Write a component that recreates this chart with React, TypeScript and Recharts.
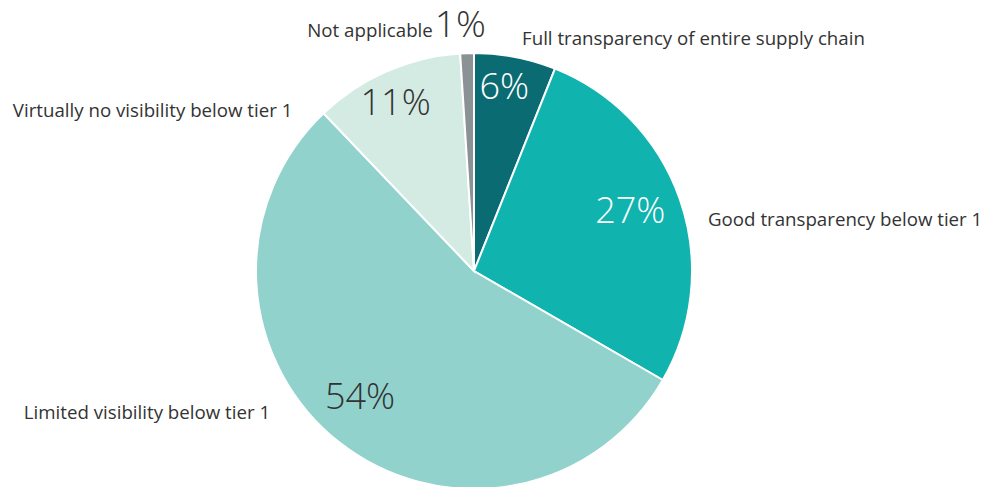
import React from "react";
import { PieChart, Pie, Cell } from "recharts";

const categories = [
  "Full transparency of entire supply chain",
  "Good transparency below tier 1",
  "Limited visibility below tier 1",
  "Virtually no visibility below tier 1",
  "Not applicable",
];
const values = [6, 27, 54, 11, 1];
const pctLabels = ["6%", "27%", "54%", "11%", "1%"];

const COLORS = ["#0a6b73", "#10b3ae", "#91d2cd", "#d3ebe3", "#8b9295"];
const PCT_COLORS = ["#ffffff", "#ffffff", "#333333", "#333333", "#333333"];

// label layout tweaks (degrees shift from slice mid-angle, radius factors)
const NAME_ANGLE_SHIFT = [0.7, 6.5, 17.3, -24.7, 4.7];
const NAME_RADIUS = [1.095, 1.1, 1.135, 1.115, 1.075];
const PCT_ANGLE_SHIFT = [-1.5, -1.3, 3.6, -1.6, 0];
const PCT_RADIUS = [0.85, 0.765, 0.785, 0.843, 0];

const data = categories.map((name, i) => ({ name, value: values[i], pct: pctLabels[i] }));

const RAD = Math.PI / 180;
const FONT = "'Open Sans', sans-serif";
const NAME_SIZE = 18.7;
const PCT_SIZE = 36;

const renderLabel = (props: any) => {
  const { cx, cy, midAngle, outerRadius, index } = props;
  const cw = 90 - midAngle; // clockwise from top
  const pos = (a: number, r: number) => ({
    x: cx + r * Math.sin(a * RAD),
    y: cy - r * Math.cos(a * RAD),
  });
  const na = cw + NAME_ANGLE_SHIFT[index];
  const np = pos(na, outerRadius * NAME_RADIUS[index]);
  const norm = ((na % 360) + 360) % 360;
  const anchor = norm < 180 ? "start" : "end";
  if (index === 4) {
    return (
      <text x={np.x} y={np.y} textAnchor="end" fontFamily={FONT} fill="#333333">
        <tspan fontSize={NAME_SIZE}>{categories[index]}</tspan>
        <tspan fontSize={PCT_SIZE + 1} fontWeight={300} dx={2} fill={PCT_COLORS[index]}>
          {pctLabels[index]}
        </tspan>
      </text>
    );
  }
  const pp = pos(cw + PCT_ANGLE_SHIFT[index], outerRadius * PCT_RADIUS[index]);
  return (
    <g>
      <text
        x={np.x}
        y={np.y}
        textAnchor={anchor}
        dominantBaseline="central"
        fontFamily={FONT}
        fontSize={NAME_SIZE}
        fill="#333333"
      >
        {categories[index]}
      </text>
      <text
        x={pp.x}
        y={pp.y}
        dy={-3}
        textAnchor="middle"
        dominantBaseline="central"
        fontFamily={FONT}
        fontSize={PCT_SIZE}
        fontWeight={300}
        fill={PCT_COLORS[index]}
      >
        {pctLabels[index]}
      </text>
    </g>
  );
};

export default function App() {
  return (
    <div style={{ position: "fixed", left: 0, top: 0, background: "#ffffff" }}>
      <PieChart width={987} height={487}>
        <Pie
          data={data}
          dataKey="value"
          nameKey="name"
          cx={469}
          cy={266}
          outerRadius={218}
          startAngle={90}
          endAngle={-270}
          stroke="#ffffff"
          strokeWidth={2}
          label={renderLabel}
          labelLine={false}
          isAnimationActive={false}
        >
          {data.map((d, i) => (
            <Cell key={d.name} fill={COLORS[i]} />
          ))}
        </Pie>
      </PieChart>
    </div>
  );
}
